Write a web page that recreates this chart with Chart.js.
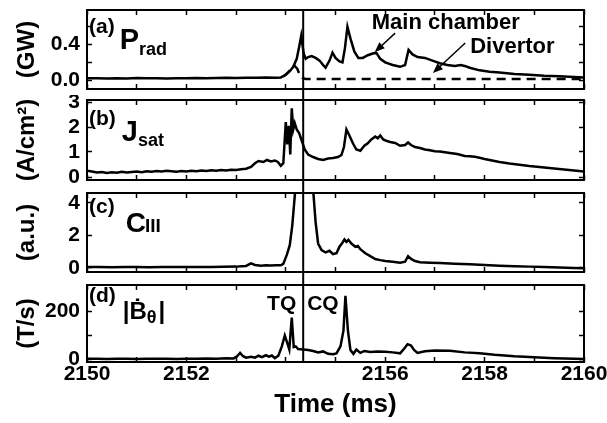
<!DOCTYPE html>
<html>
<head>
<meta charset="utf-8">
<script src="https://cdn.jsdelivr.net/npm/chart.js@4.4.1/dist/chart.umd.min.js"></script>
<style>
  body { margin: 0; background: #fff; }
  #wrap { position: relative; width: 607px; height: 423px; overflow: hidden; }
  #wrap canvas { position: absolute; left: 0; }
</style>
</head>
<body>
<div id="wrap">
  <canvas id="pa" width="607" height="95" style="top:0px"></canvas>
  <canvas id="pb" width="607" height="92" style="top:95px"></canvas>
  <canvas id="pc" width="607" height="91" style="top:187px"></canvas>
  <canvas id="pd" width="607" height="145" style="top:278px"></canvas>
</div>
<script>
const FONT = "'Liberation Sans', Arial, Helvetica, sans-serif";

// shared time axis (ms)
const xTicks = [2150, 2151, 2152, 2153, 2154, 2155, 2156, 2157, 2158, 2159, 2160];
const xTickLabels = ['2150', '', '2152', '', '', '', '2156', '', '2158', '', '2160'];
const quenchTime = 2154.35;

// (a) radiated power, GW
const pradT = [2150.0, 2150.2, 2150.4, 2150.6, 2150.8, 2151.0, 2151.2, 2151.4, 2151.6, 2151.8,
  2152.0, 2152.2, 2152.4, 2152.6, 2152.8, 2153.0, 2153.2, 2153.4, 2153.6, 2153.8, 2153.9,
  2154.0, 2154.08, 2154.15, 2154.22, 2154.27, 2154.31, 2154.36, 2154.4, 2154.45, 2154.52,
  2154.6, 2154.68, 2154.75, 2154.8, 2154.88, 2154.94, 2155.0, 2155.08, 2155.14, 2155.19,
  2155.24, 2155.3, 2155.38, 2155.46, 2155.55, 2155.65, 2155.75, 2155.82, 2155.9, 2156.0,
  2156.15, 2156.3, 2156.4, 2156.47, 2156.55, 2156.65, 2156.8, 2156.95, 2157.1, 2157.25,
  2157.4, 2157.52, 2157.6, 2157.7, 2157.9, 2158.1, 2158.3, 2158.6, 2158.9, 2159.2, 2159.5,
  2159.8, 2160.0];
const pradMain = [0.020, 0.022, 0.018, 0.021, 0.019, 0.023, 0.020, 0.022, 0.018, 0.021,
  0.020, 0.024, 0.021, 0.023, 0.026, 0.025, 0.028, 0.026, 0.030, 0.028, 0.030,
  0.06, 0.10, 0.15, 0.24, 0.38, 0.50, 0.30, 0.24, 0.26, 0.27,
  0.25, 0.22, 0.17, 0.14, 0.22, 0.31, 0.25, 0.21, 0.20, 0.36,
  0.60, 0.47, 0.32, 0.25, 0.25, 0.28, 0.30, 0.31, 0.24, 0.20,
  0.17, 0.15, 0.17, 0.34, 0.29, 0.26, 0.25, 0.22, 0.19, 0.17,
  0.16, 0.17, 0.16, 0.14, 0.11, 0.095, 0.085, 0.07, 0.06, 0.05, 0.045,
  0.035, 0.03];
const divT = [2153.95, 2154.05, 2154.12, 2154.18, 2154.23, 2154.3, 2154.4, 2155, 2156, 2157, 2158, 2159, 2160];
const pradDiv = [0.04, 0.09, 0.13, 0.16, 0.13, 0.03, 0.012, 0.012, 0.012, 0.012, 0.012, 0.012, 0.012];
const pradTicks = [0, 0.2, 0.4, 0.6];
const pradTickLabels = ['0.0', '', '0.4', ''];

// (b) ion saturation current, A/cm2
const jsatT = [2150.0, 2150.1, 2150.2, 2150.3, 2150.4, 2150.5, 2150.6, 2150.7, 2150.8, 2150.9,
  2151.0, 2151.1, 2151.2, 2151.3, 2151.4, 2151.5, 2151.6, 2151.7, 2151.8, 2151.9,
  2152.0, 2152.1, 2152.2, 2152.3, 2152.4, 2152.5, 2152.6, 2152.7, 2152.8, 2152.9,
  2153.0, 2153.1, 2153.2, 2153.3, 2153.38, 2153.45, 2153.55, 2153.62, 2153.7, 2153.78,
  2153.84, 2153.9, 2153.95, 2154.0, 2154.03, 2154.06, 2154.09, 2154.12, 2154.15, 2154.18,
  2154.22, 2154.27, 2154.33, 2154.38, 2154.45, 2154.55, 2154.65, 2154.75, 2154.85, 2154.95,
  2155.05, 2155.12, 2155.17, 2155.22, 2155.27, 2155.35, 2155.42, 2155.5, 2155.58, 2155.65,
  2155.72, 2155.8, 2155.85, 2155.9, 2155.96, 2156.02, 2156.1, 2156.2, 2156.3, 2156.4,
  2156.46, 2156.52, 2156.6, 2156.7, 2156.8, 2156.9, 2157.0, 2157.1, 2157.2, 2157.3,
  2157.45, 2157.6, 2157.7, 2157.8, 2157.9, 2158.0, 2158.15, 2158.3, 2158.5, 2158.7,
  2158.9, 2159.1, 2159.3, 2159.5, 2159.7, 2159.85, 2160.0];
const jsat = [0.25, 0.22, 0.18, 0.20, 0.16, 0.19, 0.17, 0.21, 0.18, 0.20,
  0.22, 0.19, 0.23, 0.21, 0.24, 0.22, 0.25, 0.23, 0.21, 0.24,
  0.22, 0.25, 0.23, 0.26, 0.24, 0.27, 0.25, 0.28, 0.26, 0.29,
  0.28, 0.31, 0.33, 0.40, 0.55, 0.64, 0.60, 0.68, 0.62, 0.66,
  0.60, 0.45, 0.55, 2.2, 1.3, 2.05, 0.9, 2.75, 1.9, 2.15,
  1.9, 1.75, 1.4, 1.1, 0.9, 0.8, 0.72, 0.68, 0.74, 0.76,
  0.80, 0.88, 1.2, 1.9, 1.7, 1.35, 1.1, 1.05, 1.25, 1.35,
  1.5, 1.62, 1.55, 1.66, 1.50, 1.45, 1.40, 1.36, 1.25, 1.28,
  1.38, 1.28, 1.20, 1.16, 1.10, 1.07, 1.03, 1.02, 0.99, 0.96,
  0.92, 0.84, 0.83, 0.81, 0.77, 0.72, 0.66, 0.60, 0.54, 0.49,
  0.44, 0.40, 0.36, 0.32, 0.28, 0.25, 0.22];
const jsatTicks = [0, 1, 2, 3];
const jsatTickLabels = ['0', '1', '2', '3'];

// (c) C III emission, a.u.
const ciiiT = [2150.0, 2150.25, 2150.5, 2150.75, 2151.0, 2151.25, 2151.5, 2151.75, 2152.0, 2152.25,
  2152.5, 2152.75, 2153.0, 2153.2, 2153.3, 2153.38, 2153.5, 2153.6, 2153.7, 2153.8,
  2153.9, 2153.95, 2154.02, 2154.08, 2154.13, 2154.18, 2154.22, 2154.3, 2154.42, 2154.52,
  2154.56, 2154.6, 2154.65, 2154.72, 2154.8, 2154.88, 2154.95, 2155.02, 2155.08, 2155.14,
  2155.18, 2155.22, 2155.26, 2155.32, 2155.4, 2155.45, 2155.5, 2155.6, 2155.7, 2155.8,
  2155.9, 2156.0, 2156.15, 2156.3, 2156.4, 2156.46, 2156.52, 2156.6, 2156.7, 2156.9,
  2157.1, 2157.4, 2157.7, 2158.0, 2158.3, 2158.6, 2158.9, 2159.2, 2159.5, 2159.8, 2160.0];
const ciii = [0.05, 0.06, 0.04, 0.05, 0.06, 0.04, 0.05, 0.06, 0.05, 0.06,
  0.05, 0.07, 0.08, 0.12, 0.28, 0.18, 0.14, 0.16, 0.15, 0.17,
  0.16, 0.25, 0.8, 1.4, 2.6, 4.4, 6.0, 8.0, 8.0, 6.0,
  4.4, 2.8, 1.5, 1.1, 0.95, 1.05, 0.85, 0.9, 1.3, 1.55,
  1.75, 1.6, 1.72, 1.5, 1.3, 1.35, 1.15, 0.9, 0.72, 0.55,
  0.48, 0.42, 0.38, 0.32, 0.38, 0.72, 0.55, 0.42, 0.35, 0.32,
  0.30, 0.26, 0.22, 0.18, 0.14, 0.11, 0.08, 0.05, 0.02, 0.0, -0.02];
const ciiiTicks = [0, 2, 4];
const ciiiTickLabels = ['0', '2', '4'];

// (d) |dB_theta/dt|, T/s
const bdotT = [2150.0, 2150.2, 2150.4, 2150.6, 2150.8, 2151.0, 2151.2, 2151.4, 2151.6, 2151.8,
  2152.0, 2152.2, 2152.4, 2152.6, 2152.8, 2152.95, 2153.02, 2153.08, 2153.14, 2153.2,
  2153.3, 2153.38, 2153.45, 2153.52, 2153.6, 2153.66, 2153.72, 2153.78, 2153.85, 2153.92,
  2153.98, 2154.04, 2154.07, 2154.12, 2154.16, 2154.2, 2154.25, 2154.35, 2154.45, 2154.55,
  2154.65, 2154.75, 2154.85, 2154.95, 2155.02, 2155.1, 2155.16, 2155.2, 2155.25, 2155.3,
  2155.36, 2155.42, 2155.5, 2155.58, 2155.7, 2155.85, 2156.0, 2156.15, 2156.3, 2156.38,
  2156.45, 2156.52, 2156.58, 2156.65, 2156.8, 2157.0, 2157.3, 2157.6, 2157.9, 2158.2,
  2158.6, 2159.0, 2159.4, 2159.8, 2160.0];
const bdot = [3, 4, 2, 3, 4, 2, 3, 4, 3, 2,
  4, 3, 5, 4, 6, 5, 14, 28, 14, 8,
  12, 8, 16, 10, 18, 12, 17, 6, 16, 55,
  100, 62, 42, 175, 52, 55, 44, 42, 40, 36,
  30, 34, 24, 22, 26, 55, 120, 265, 120, 40,
  24, 42, 28, 36, 32, 34, 33, 30, 26, 45,
  64, 58, 40, 28, 35, 38, 37, 30, 26, 20,
  14, 10, 6, 3, 2];
const bdotTicks = [0, 100, 200];
const bdotTickLabels = ['0', '', '200'];

// draws frame, quench marker, panel label and notes
const panelDecor = {
  id: 'panelDecor',
  afterDraw(chart, args, opts) {
    const ctx = chart.ctx;
    const a = chart.chartArea;
    const xs = chart.scales.x, ys = chart.scales.y;
    ctx.save();
    ctx.strokeStyle = '#000';
    ctx.fillStyle = '#000';
    ctx.lineWidth = 2;
    ctx.strokeRect(a.left, a.top, a.right - a.left, a.bottom - a.top);

    const vx = xs.getPixelForValue(quenchTime);
    ctx.beginPath();
    ctx.moveTo(vx, opts.lineFromEdge ? 0 : a.top);
    ctx.lineTo(vx, opts.lineToEdge ? chart.height : a.bottom);
    ctx.stroke();

    ctx.textBaseline = 'alphabetic';
    ctx.textAlign = 'left';
    let x = a.left + 2;
    opts.label.forEach(p => {
      ctx.font = 'bold ' + p.size + 'px ' + FONT;
      x += p.gap;
      ctx.fillText(p.text, x, a.top + p.dy);
      x += ctx.measureText(p.text).width;
    });

    (opts.notes || []).forEach(n => {
      ctx.font = 'bold ' + n.size + 'px ' + FONT;
      ctx.textAlign = n.align;
      ctx.fillText(n.text, xs.getPixelForValue(n.t), ys.getPixelForValue(n.v));
    });

    ctx.lineWidth = 1.5;
    (opts.arrows || []).forEach(ar => {
      const x1 = xs.getPixelForValue(ar.from[0]), y1 = ys.getPixelForValue(ar.from[1]);
      const x2 = xs.getPixelForValue(ar.to[0]), y2 = ys.getPixelForValue(ar.to[1]);
      const ang = Math.atan2(y2 - y1, x2 - x1);
      ctx.beginPath();
      ctx.moveTo(x1, y1);
      ctx.lineTo(x2 - 6 * Math.cos(ang), y2 - 6 * Math.sin(ang));
      ctx.stroke();
      ctx.beginPath();
      ctx.moveTo(x2, y2);
      ctx.lineTo(x2 - 10 * Math.cos(ang) + 4 * Math.sin(ang), y2 - 10 * Math.sin(ang) - 4 * Math.cos(ang));
      ctx.lineTo(x2 - 10 * Math.cos(ang) - 4 * Math.sin(ang), y2 - 10 * Math.sin(ang) + 4 * Math.cos(ang));
      ctx.closePath();
      ctx.fill();
    });
    ctx.restore();
  }
};

function series(ts, vs, dash) {
  return {
    data: ts.map((t, i) => ({ x: t, y: vs[i] })),
    borderColor: '#000',
    borderWidth: 2.5,
    borderDash: dash || [],
    pointRadius: 0,
    tension: 0,
    fill: false
  };
}

// fixed box sizes, no label overhang padding, so every panel lines up
function fixBox(w, h) {
  return s => {
    if (w !== null) s.width = w;
    if (h !== null) s.height = h;
    s.paddingTop = 0; s.paddingBottom = 0; s.paddingLeft = 0; s.paddingRight = 0;
  };
}

function panel(id, cfg) {
  const tickGrid = { drawOnChartArea: false, drawTicks: true, tickLength: -5, tickWidth: 1.5, tickColor: '#000' };
  const setTicks = vals => s => { s.ticks = vals.map(v => ({ value: v })); };
  const tickFont = { family: FONT, size: 21, weight: 'bold' };
  return new Chart(document.getElementById(id), {
    type: 'line',
    data: { datasets: cfg.datasets },
    options: {
      responsive: false,
      animation: false,
      events: [],
      layout: { padding: { left: 0, right: 22, top: cfg.padTop, bottom: 0 } },
      plugins: {
        legend: { display: false },
        tooltip: { enabled: false },
        panelDecor: cfg.decor
      },
      scales: {
        x: {
          type: 'linear', position: 'bottom', min: 2150, max: 2160,
          grid: tickGrid, border: { display: false },
          afterBuildTicks: setTicks(xTicks),
          afterFit: fixBox(null, cfg.xHeight),
          ticks: {
            display: cfg.showX, autoSkip: false, maxRotation: 0, padding: 5,
            color: '#000', font: tickFont,
            callback: (v, i) => xTickLabels[i]
          },
          title: {
            display: cfg.showX, text: 'Time (ms)', color: '#000',
            font: { family: FONT, size: 26, weight: 'bold' },
            padding: { top: 0, bottom: 3 }
          }
        },
        x2: {
          type: 'linear', axis: 'x', position: 'top', min: 2150, max: 2160,
          grid: tickGrid, border: { display: false }, ticks: { display: false },
          afterBuildTicks: setTicks(xTicks),
          afterFit: fixBox(null, 1)
        },
        y: {
          type: 'linear', position: 'left', min: cfg.yMin, max: cfg.yMax,
          grid: tickGrid, border: { display: false },
          afterBuildTicks: setTicks(cfg.yTicks),
          afterFit: fixBox(87, null),
          ticks: {
            autoSkip: false, padding: 12, color: '#000', font: tickFont,
            callback: (v, i) => cfg.yLabels[i]
          },
          title: {
            display: true, text: cfg.unit, color: '#000',
            font: { family: FONT, size: 24, weight: 'bold' },
            padding: { top: 13, bottom: 0 }
          }
        },
        y2: {
          type: 'linear', axis: 'y', position: 'right', min: cfg.yMin, max: cfg.yMax,
          grid: tickGrid, border: { display: false }, ticks: { display: false },
          afterBuildTicks: setTicks(cfg.yTicks),
          afterFit: fixBox(1, null)
        }
      }
    },
    plugins: [panelDecor]
  });
}

panel('pa', {
  datasets: [series(divT, pradDiv, [9, 6]), series(pradT, pradMain)],
  padTop: 9, xHeight: 6, showX: false,
  yMin: -0.1, yMax: 0.79, yTicks: pradTicks, yLabels: pradTickLabels, unit: '(GW)',
  decor: {
    lineFromEdge: false, lineToEdge: true,
    label: [
      { text: '(a)', size: 21, gap: 0, dy: 23 },
      { text: 'P', size: 29, gap: 5, dy: 39 },
      { text: 'rad', size: 18, gap: 0, dy: 45 }
    ],
    notes: [
      { text: 'Main chamber', size: 22, align: 'left', t: 2155.73, v: 0.577 },
      { text: 'Divertor', size: 22, align: 'left', t: 2157.71, v: 0.305 }
    ],
    arrows: [
      { from: [2156.2, 0.53], to: [2155.79, 0.316] },
      { from: [2157.61, 0.418], to: [2156.96, 0.079] }
    ]
  }
});

panel('pb', {
  datasets: [series(jsatT, jsat)],
  padTop: 4, xHeight: 7, showX: false,
  yMin: -0.12, yMax: 3.08, yTicks: jsatTicks, yLabels: jsatTickLabels, unit: '(A/cm²)',
  decor: {
    lineFromEdge: true, lineToEdge: true,
    label: [
      { text: '(b)', size: 21, gap: 0, dy: 25 },
      { text: 'J', size: 29, gap: 6, dy: 41 },
      { text: 'sat', size: 18, gap: 0, dy: 46 }
    ]
  }
});

panel('pc', {
  datasets: [series(ciiiT, ciii)],
  padTop: 5, xHeight: 6, showX: false,
  yMin: -0.25, yMax: 4.6, yTicks: ciiiTicks, yLabels: ciiiTickLabels, unit: '(a.u.)',
  decor: {
    lineFromEdge: true, lineToEdge: true,
    label: [
      { text: '(c)', size: 21, gap: 0, dy: 20 },
      { text: 'C', size: 28, gap: 11, dy: 39 },
      { text: 'III', size: 19, gap: -1, dy: 39 }
    ]
  }
});

panel('pd', {
  datasets: [series(bdotT, bdot)],
  padTop: 6, xHeight: 61, showX: true,
  yMin: -10, yMax: 310, yTicks: bdotTicks, yLabels: bdotTickLabels, unit: '(T/s)',
  decor: {
    lineFromEdge: true, lineToEdge: false,
    label: [
      { text: '(d)', size: 21, gap: 0, dy: 17 },
      { text: '|Ḃ', size: 24, gap: 7, dy: 34 },
      { text: 'θ', size: 18, gap: 0, dy: 38 },
      { text: '|', size: 24, gap: 2, dy: 34 }
    ],
    notes: [
      { text: 'TQ', size: 21, align: 'right', t: quenchTime - 0.14, v: 206 },
      { text: 'CQ', size: 21, align: 'left', t: quenchTime + 0.08, v: 206 }
    ]
  }
});
</script>
</body>
</html>
